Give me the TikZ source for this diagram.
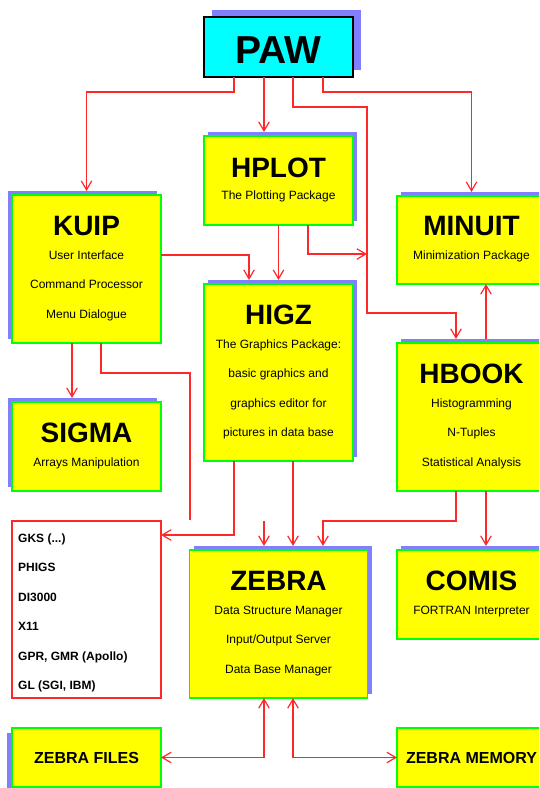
\documentclass[tikz,border=0pt]{standalone}
\usepackage{fontspec}
\setmainfont{Liberation Sans}
\usetikzlibrary{arrows.meta,shadows}

\definecolor{boxyellow}{RGB}{255,255,0}
\definecolor{boxgreen}{RGB}{0,255,0}
\definecolor{pawcyan}{RGB}{0,255,255}
\definecolor{shadowblue}{RGB}{128,128,255}
\definecolor{linkred}{RGB}{255,40,40}

\begin{document}
\begin{tikzpicture}[x=1pt,y=-1pt,>={Straight Barb[length=9pt,width=10.5pt]}]
\tikzstyle{box} = [rectangle, draw=boxgreen, line width=1.2pt, fill=boxyellow, inner sep=0pt, outer sep=0pt, minimum width=149pt]
\tikzstyle{ur shadow} = [drop shadow={shadow xshift=4pt, shadow yshift=4pt, fill=shadowblue, opacity=1}]
\tikzstyle{ul shadow} = [drop shadow={shadow xshift=-4pt, shadow yshift=4pt, fill=shadowblue, opacity=1}]
\tikzstyle{dl shadow} = [drop shadow={shadow xshift=-5pt, shadow yshift=-5pt, fill=shadowblue, opacity=1}]
\tikzstyle{title} = [font=\bfseries\fontsize{28}{30}\selectfont, anchor=base, inner sep=0pt]
\tikzstyle{sub} = [font=\fontsize{12}{14}\selectfont, anchor=base, inner sep=0pt]
\tikzstyle{lib} = [font=\bfseries\fontsize{12}{14}\selectfont, anchor=base west, inner sep=0pt]
\tikzstyle{link} = [draw=linkred, line width=1.2pt, ->]

\useasboundingbox (0,0) rectangle (539,788);
\clip (0,0) rectangle (539,788);

% boxes
\node[box, draw=black, line width=1.4pt, fill=pawcyan, minimum height=60pt,
      drop shadow={shadow xshift=7.5pt, shadow yshift=7pt, fill=shadowblue, opacity=1}] (paw) at (278.5,47) {};
\node[box, ur shadow, minimum height=89pt] (hplot) at (278.5,180.5) {};
\node[box, ul shadow, minimum height=148pt] (kuip) at (86.5,269) {};
\node[box, ur shadow, minimum height=88pt] (minuit) at (471.5,240) {};
\node[box, ur shadow, minimum height=177pt] (higz) at (278.5,372.5) {};
\node[box, ur shadow, minimum height=148pt] (hbook) at (471.5,417) {};
\node[box, ul shadow, minimum height=89pt] (sigma) at (86.5,446.5) {};
\node[box, draw=linkred, line width=1.1pt, fill=white, minimum height=177pt] (gks) at (86.5,609.5) {};
\node[box, ur shadow, minimum width=178pt, minimum height=148pt] (zebra) at (278.5,624) {};
\node[box, ur shadow, minimum height=89pt] (comis) at (471.5,594.5) {};
\node[box, dl shadow, minimum height=59pt, font=\bfseries\fontsize{16}{18}\selectfont] (files) at (86.5,757.5) {ZEBRA FILES};
\node[box, minimum height=59pt, font=\bfseries\fontsize{16}{18}\selectfont] (memory) at (471.5,757.5) {ZEBRA MEMORY};

% titles
\node[title, font=\bfseries\fontsize{39}{40}\selectfont] (paw-t) at ([yshift=-46pt]paw.north) {PAW};
\node[title] (hplot-t) at ([yshift=-41pt]hplot.north) {HPLOT};
\node[title] (kuip-t) at ([yshift=-40pt]kuip.north) {KUIP};
\node[title] (minuit-t) at ([yshift=-39pt]minuit.north) {MINUIT};
\node[title] (higz-t) at ([yshift=-40pt]higz.north) {HIGZ};
\node[title] (hbook-t) at ([yshift=-40pt]hbook.north) {HBOOK};
\node[title] (sigma-t) at ([yshift=-40pt]sigma.north) {SIGMA};
\node[title] (zebra-t) at ([yshift=-40pt]zebra.north) {ZEBRA};
\node[title] (comis-t) at ([yshift=-40pt]comis.north) {COMIS};

% lines under the titles
\node[sub] (hplot-0) at ([yshift=-63pt]hplot.north) {The Plotting Package};
\node[sub] (minuit-0) at ([yshift=-63pt]minuit.north) {Minimization Package};
\node[sub] (sigma-0) at ([yshift=-64pt]sigma.north) {Arrays Manipulation};
\node[sub] (comis-0) at ([yshift=-64pt]comis.north) {FORTRAN Interpreter};
\foreach \txt [count=\i from 0] in {User Interface, Command Processor, Menu Dialogue}
  \node[sub] (kuip-\i) at ([yshift={-64pt-29.5pt*\i}]kuip.north) {\txt};
\foreach \txt [count=\i from 0] in {The Graphics Package:, basic graphics and, graphics editor for, pictures in data base}
  \node[sub] (higz-\i) at ([yshift={-64pt-29.5pt*\i}]higz.north) {\txt};
\foreach \txt [count=\i from 0] in {Histogramming, N-Tuples, Statistical Analysis}
  \node[sub] (hbook-\i) at ([yshift={-64pt-29.5pt*\i}]hbook.north) {\txt};
\foreach \txt [count=\i from 0] in {Data Structure Manager, Input/Output Server, Data Base Manager}
  \node[sub] (zebra-\i) at ([yshift={-64pt-29.5pt*\i}]zebra.north) {\txt};
\foreach \txt [count=\i from 0] in {{GKS (.{}.{}.)}, PHIGS, DI3000, X11, {GPR, GMR (Apollo)}, {GL (SGI, IBM)}}
  \node[lib] (gks-\i) at ([xshift=6pt,yshift={-21pt-29.5pt*\i}]gks.north west) {\txt};

% connectors
\coordinate (bus) at (367,254);
\coordinate (gks-feed) at (190,520);
\coordinate (zebra-feed) at (264,521);
\draw[link] ([xshift=-44.5pt]paw.south) -- ++(0,15) -| ([yshift=4pt]kuip.north);
\draw[link] ([xshift=-14.5pt]paw.south) -- ([xshift=-14.5pt,yshift=4pt]hplot.north);
\draw[link] ([xshift=14.5pt]paw.south) -- ++(0,30) -| (367,313) -| ([xshift=-15.5pt,yshift=4pt]hbook.north);
\draw[link] ([xshift=44.5pt]paw.south) -- ++(0,15) -| ([yshift=4pt]minuit.north);
\draw[link] ([yshift=14pt]kuip.east) -| ([xshift=-29.5pt,yshift=4pt]higz.north);
\draw[link] ([xshift=-14.5pt]kuip.south) -- ([xshift=-14.5pt,yshift=4pt]sigma.north);
\draw[link, -] ([xshift=14.5pt]kuip.south) |- (190,373) -- (gks-feed);
\draw[link] (hplot.south) -- ([yshift=4pt]higz.north);
\draw[link] ([xshift=29.5pt]hplot.south) |- (bus);
\draw[link] ([xshift=-44.5pt]higz.south) |- ([yshift=74.5pt]gks.east);
\draw[link] ([xshift=14.5pt]higz.south) -- ([xshift=14.5pt,yshift=4pt]zebra.north);
\draw[link] (zebra-feed) -- ([xshift=-14.5pt,yshift=4pt]zebra.north);
\draw[link] ([xshift=-15.5pt]hbook.south) |- (323,521) -- ([xshift=44.5pt,yshift=4pt]zebra.north);
\draw[link] ([xshift=14.5pt]hbook.south) -- ([xshift=14.5pt,yshift=4pt]comis.north);
\draw[link] ([xshift=14.5pt,yshift=4pt]hbook.north) -- ([xshift=14.5pt]minuit.south);
\draw[link, <->] ([xshift=-14.5pt]zebra.south) |- (files.east);
\draw[link, <->] ([xshift=14.5pt]zebra.south) |- (memory.west);
\end{tikzpicture}
\end{document}
